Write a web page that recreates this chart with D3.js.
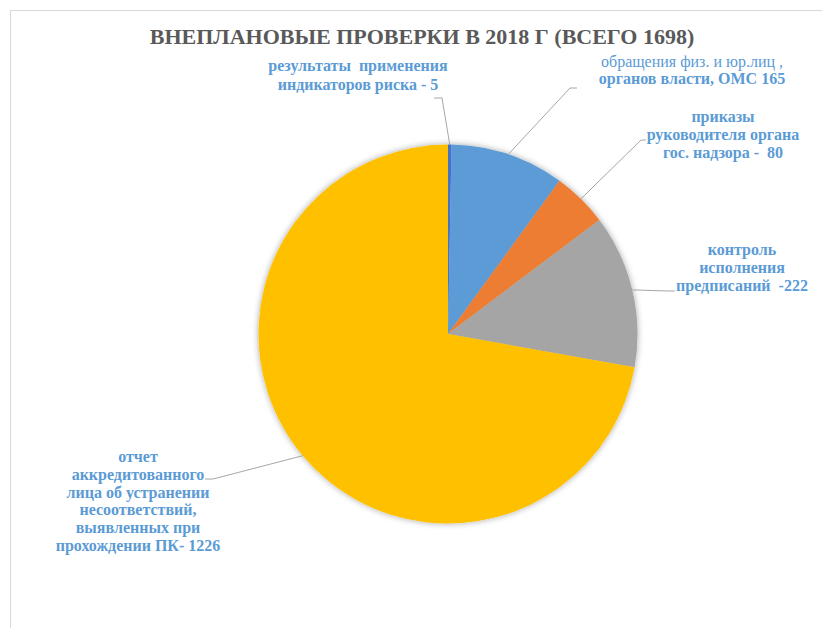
<!DOCTYPE html>
<html><head><meta charset="utf-8">
<script src="https://cdn.jsdelivr.net/npm/d3@7"></script>
<style>body{margin:0;background:#fff}svg{display:block}text{white-space:pre}</style>
</head><body>
<svg id="c" width="822" height="628"></svg>
<script>
const title = "ВНЕПЛАНОВЫЕ ПРОВЕРКИ В 2018 Г (ВСЕГО 1698)";
const categories = [
  ["результаты  применения", "индикаторов риска - 5"],
  ["обращения физ. и юр.лиц ,", "органов власти, ОМС 165"],
  ["приказы", "руководителя органа", "гос. надзора -  80"],
  ["контроль", "исполнения", "предписаний  -222"],
  ["отчет", "аккредитованного", "лица об устранении", "несоответствий,", "выявленных при", "прохождении ПК- 1226"]
];
const values = [5, 165, 80, 222, 1226];
const colors = ["#4472C4", "#5B9BD5", "#ED7D31", "#A5A5A5", "#FFC000"];

// layout (label block centre x, first-line baseline y, line step, leader end x/y, elbow x)
const layout = [
  {cx: 358, y: 71, step: 18.5, ex: 434, ey: 98, elbow: 442},
  {cx: 692, y: 67, step: 17, ex: 577, ey: 88, elbow: 570, lightFirst: true},
  {cx: 723, y: 122, step: 18, ex: 646, ey: 140, elbow: 641},
  {cx: 742, y: 255, step: 18, ex: 675, ey: 291, elbow: 668},
  {cx: 138, y: 462, step: 17.8, ex: 205, ey: 479, elbow: 213}
];

const svg = d3.select("#c");
const W = 822, H = 628;
const cx = 448, cy = 334, R = 189.5;

const defs = svg.append("defs");
const f = defs.append("filter").attr("id","sh").attr("x","-20%").attr("y","-20%").attr("width","140%").attr("height","140%");
f.append("feDropShadow").attr("dx",0).attr("dy",0).attr("stdDeviation",3).attr("flood-color","#000").attr("flood-opacity",0.35);

// chart border
svg.append("rect").attr("x",10.5).attr("y",10.5).attr("width",W).attr("height",H)
  .attr("fill","#fff").attr("stroke","#d9d9d9").attr("stroke-width",1);

svg.append("text").attr("x",422).attr("y",44).attr("text-anchor","middle")
  .attr("font-family","'Liberation Serif','Times New Roman',serif").attr("font-weight","bold")
  .attr("font-size",22).attr("fill","#595959").text(title);

const pie = d3.pie().sort(null).value(d => d)(values);
const arc = d3.arc().innerRadius(0).outerRadius(R);
const g = svg.append("g").attr("transform",`translate(${cx},${cy})`);
g.append("g").attr("filter","url(#sh)").selectAll("path").data(pie).join("path")
  .attr("d", arc).attr("fill", (d,i) => colors[i]);

// leader lines
const lines = svg.append("g").attr("fill","none").attr("stroke","#a6a6a6").attr("stroke-width",1);
pie.forEach((d,i) => {
  const a = (d.startAngle + d.endAngle)/2;
  const px = cx + R*Math.sin(a), py = cy - R*Math.cos(a);
  const L = layout[i];
  lines.append("polyline").attr("points", `${L.ex},${L.ey} ${L.elbow},${L.ey} ${px},${py}`);
});

// labels
const lab = svg.append("g").attr("font-family","'Liberation Serif','Times New Roman',serif")
  .attr("font-weight","bold").attr("font-size",16).attr("fill","#5B9BD5")
  .attr("text-anchor","middle");
categories.forEach((lns,i) => {
  const L = layout[i];
  const t = lab.append("text").attr("xml:space","preserve");
  lns.forEach((s,j) => {
    const ts = t.append("tspan").attr("x",L.cx).attr("y",L.y + j*L.step).text(s);
    if (L.lightFirst && j === 0) ts.attr("font-weight","normal");
  });
});
</script>
</body></html>
